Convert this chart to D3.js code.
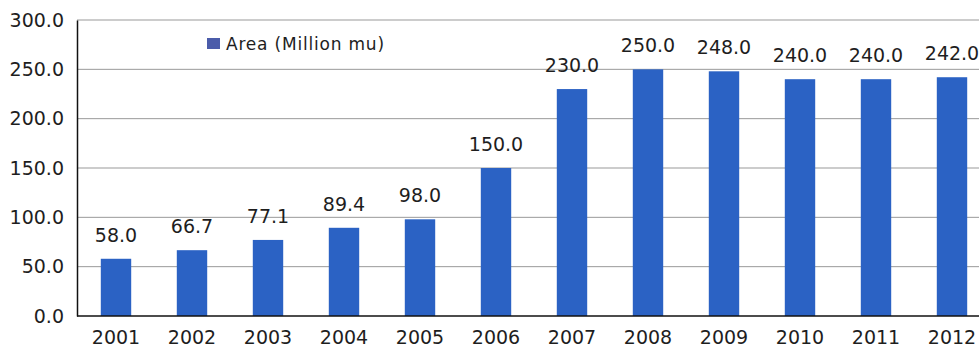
<!DOCTYPE html>
<html>
<head>
<meta charset="utf-8">
<script src="https://cdn.jsdelivr.net/npm/d3@7"></script>
<style>
  body { margin: 0; background: #fff; }
  text { font-family: "DejaVu Sans", sans-serif; fill: #1e1e1e; }
</style>
</head>
<body>
<div id="chart"></div>
<script>
// data
const years = ["2001","2002","2003","2004","2005","2006","2007","2008","2009","2010","2011","2012"];
const area = [58.0, 66.7, 77.1, 89.4, 98.0, 150.0, 230.0, 250.0, 248.0, 240.0, 240.0, 242.0];
const yTicks = [0, 50, 100, 150, 200, 250, 300];
const seriesName = "Area (Million mu)";

const W = 979, H = 349;
const margin = {top: 20, left: 77, bottom: 33};
const plotBottom = H - margin.bottom;

const svg = d3.select("#chart")
  .append("svg")
    .attr("width", W)
    .attr("height", H);

// x: plot runs off the right edge like in the picture
const x = d3.scaleBand()
  .domain(years)
  .range([margin.left + 1, 990])
  .paddingInner(0.6)
  .paddingOuter(0.3);

const y = d3.scaleLinear()
  .domain([0, 300])
  .range([plotBottom, margin.top]);

// gridlines
svg.append("g")
  .selectAll("line")
  .data(yTicks.filter(d => d > 0))
  .join("line")
    .attr("x1", margin.left)
    .attr("x2", W)
    .attr("y1", d => y(d))
    .attr("y2", d => y(d))
    .attr("stroke", "#999")
    .attr("stroke-width", 1);

// y axis
const yAxis = svg.append("g")
  .attr("transform", `translate(${margin.left},0)`)
  .call(d3.axisLeft(y).tickValues(yTicks).tickFormat(d3.format(".1f")).tickSize(0).tickPadding(13));
yAxis.select(".domain").attr("stroke", "#111").attr("stroke-width", 1.5);
yAxis.selectAll("text").attr("font-size", "19px").attr("font-family", "DejaVu Sans").attr("fill", "#1e1e1e");

// bars
svg.append("g")
  .selectAll("rect")
  .data(area)
  .join("rect")
    .attr("x", (d, i) => x(years[i]))
    .attr("y", d => y(d))
    .attr("width", x.bandwidth())
    .attr("height", d => plotBottom - y(d))
    .attr("fill", "#2b62c4");

// value labels
svg.append("g")
  .selectAll("text")
  .data(area)
  .join("text")
    .attr("x", (d, i) => x(years[i]) + x.bandwidth() / 2)
    .attr("y", d => y(d) - 17)
    .attr("text-anchor", "middle")
    .attr("font-size", "19px")
    .text(d => d3.format(".1f")(d));

// x axis
const xAxis = svg.append("g")
  .attr("transform", `translate(0,${plotBottom})`)
  .call(d3.axisBottom(x).tickSize(0).tickPadding(15));
xAxis.select(".domain").remove();
xAxis.selectAll("text").attr("font-size", "19px").attr("font-family", "DejaVu Sans").attr("fill", "#1e1e1e");
svg.append("line")
  .attr("x1", margin.left)
  .attr("x2", W)
  .attr("y1", plotBottom)
  .attr("y2", plotBottom)
  .attr("stroke", "#111")
  .attr("stroke-width", 1.5);

// legend
const legend = svg.append("g").attr("transform", "translate(207,38)");
legend.append("rect")
  .attr("width", 13)
  .attr("height", 11)
  .attr("fill", "#4b5caa");
legend.append("text")
  .attr("x", 19)
  .attr("y", 12)
  .attr("font-size", "17px")
  .attr("letter-spacing", "0.8px")
  .text(seriesName);
</script>
</body>
</html>
